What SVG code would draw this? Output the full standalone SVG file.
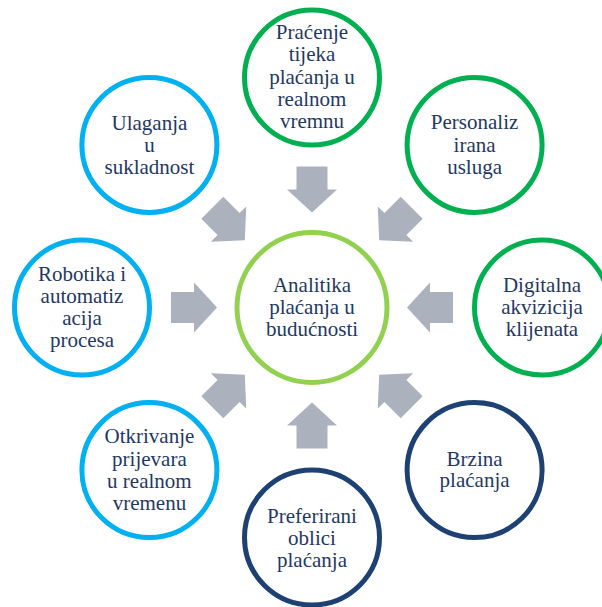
<svg xmlns="http://www.w3.org/2000/svg" width="602" height="607" viewBox="0 0 602 607">
<style>
.c{fill:#ffffff;stroke-width:5}
.lb{stroke:#00b0f0}
.gr{stroke:#00b050}
.nv{stroke:#1d4173}
.ct{stroke:#92d050}
text{font-family:"Liberation Serif","Times New Roman",serif;font-size:21px;fill:#1f3864;text-anchor:middle}
.ar{fill:#acb1be}
</style>
<defs>
<polygon id="arr" points="-141,-15.5 -118,-15.5 -118,-25 -95,0 -118,25 -118,15.5 -141,15.5"/>
</defs>
<rect width="602" height="607" fill="#ffffff"/>
<g id="connectors" class="ar" transform="translate(312,307.5)">
<use href="#arr"/>
<use href="#arr" transform="rotate(45)"/>
<use href="#arr" transform="rotate(90)"/>
<use href="#arr" transform="rotate(135)"/>
<use href="#arr" transform="rotate(180)"/>
<use href="#arr" transform="rotate(225)"/>
<use href="#arr" transform="rotate(270)"/>
<use href="#arr" transform="rotate(315)"/>
</g>
<g id="center">
<circle class="c ct" cx="312" cy="307.5" r="75"/>
<text x="312" y="292">Analitika</text>
<text x="312" y="314">plaćanja u</text>
<text x="312" y="336">budućnosti</text>
</g>
<g id="top">
<circle class="c gr" cx="312" cy="77.5" r="67.5"/>
<text x="312" y="39">Praćenje</text>
<text x="312" y="61.3">tijeka</text>
<text x="312" y="83.6">plaćanja u</text>
<text x="312" y="105.9">realnom</text>
<text x="312" y="128.2">vremnu</text>
</g>
<g id="topright">
<circle class="c gr" cx="474.6" cy="144.9" r="67.5"/>
<text x="474.6" y="129.3">Personaliz</text>
<text x="474.6" y="151.6">irana</text>
<text x="474.6" y="173.9">usluga</text>
</g>
<g id="right">
<circle class="c gr" cx="542" cy="307.5" r="67.5"/>
<text x="542" y="291.5">Digitalna</text>
<text x="542" y="313.6">akvizicija</text>
<text x="542" y="335.7">klijenata</text>
</g>
<g id="bottomright">
<circle class="c nv" cx="474.6" cy="470.1" r="67.5"/>
<text x="474.6" y="465.6">Brzina</text>
<text x="474.6" y="487.4">plaćanja</text>
</g>
<g id="bottom">
<circle class="c nv" cx="312" cy="537.5" r="67.5"/>
<text x="312" y="522.5">Preferirani</text>
<text x="312" y="544.5">oblici</text>
<text x="312" y="566.5">plaćanja</text>
</g>
<g id="bottomleft">
<circle class="c lb" cx="149.4" cy="470.1" r="67.5"/>
<text x="149.4" y="443.3">Otkrivanje</text>
<text x="149.4" y="465.5">prijevara</text>
<text x="149.4" y="487.7">u realnom</text>
<text x="149.4" y="509.9">vremenu</text>
</g>
<g id="left">
<circle class="c lb" cx="82" cy="307.5" r="67.5"/>
<text x="82" y="281">Robotika i</text>
<text x="82" y="303">automatiz</text>
<text x="82" y="325">acija</text>
<text x="82" y="347">procesa</text>
</g>
<g id="topleft">
<circle class="c lb" cx="149.4" cy="144.9" r="67.5"/>
<text x="149.4" y="130">Ulaganja</text>
<text x="149.4" y="152">u</text>
<text x="149.4" y="174">sukladnost</text>
</g>
</svg>
